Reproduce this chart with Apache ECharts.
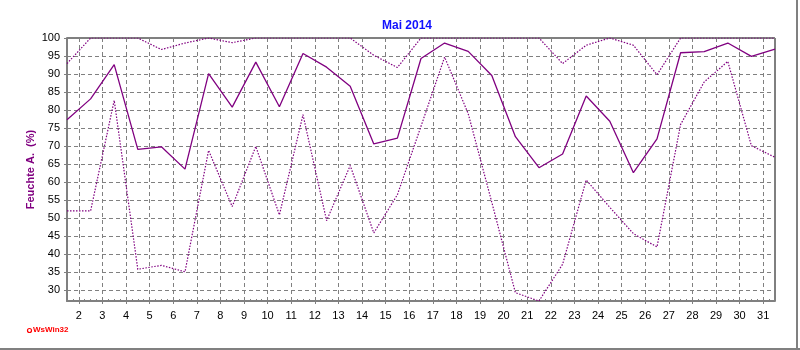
<!DOCTYPE html>
<html>
<head>
<meta charset="utf-8">
<script src="https://cdn.jsdelivr.net/npm/echarts@6/dist/echarts.min.js"></script>
<style>
html,body{margin:0;padding:0;background:#fff;}
#chart{width:800px;height:350px;}
</style>
</head>
<body>
<div id="chart"></div>
<script>
// ---- data ----
var title = 'Mai 2014';
var yName = 'Feuchte A.  (%)';
var days = [1,2,3,4,5,6,7,8,9,10,11,12,13,14,15,16,17,18,19,20,21,22,23,24,25,26,27,28,29,30,31];
var humMean = [77.3,83.1,92.6,69.1,69.8,63.6,90.1,80.8,93.3,80.9,95.7,91.9,86.6,70.6,72.2,94.3,98.6,96.3,89.6,72.6,64.0,67.8,83.9,76.9,62.6,72.0,95.9,96.2,98.6,94.9,96.9];
var humMax  = [92.9,100,100,100,96.8,98.6,100,98.7,100,100,100,100,100,95.2,91.8,100,100,100,100,100,100,92.9,98.0,100,98.0,89.8,100,100,100,100,100];
var humMin  = [52.0,52.0,82.7,35.8,36.9,35.1,68.8,53.2,69.9,50.9,78.7,49.3,64.6,45.9,56.5,75.5,94.7,79.0,54.4,29.3,27.0,37.2,60.6,53.0,45.7,42.0,76.0,87.8,93.5,70.1,66.9];
var xTickLabels = [2,3,4,5,6,7,8,9,10,11,12,13,14,15,16,17,18,19,20,21,22,23,24,25,26,27,28,29,30,31];
var yTickLabels = [30,35,40,45,50,55,60,65,70,75,80,85,90,95,100];

// ---- chart ----
var FONT = '"Liberation Sans", Arial, sans-serif';
var PURPLE = '#800080';
function pairs(vals){ return days.map(function(d,i){ return [d + 0.5, vals[i]]; }); }
var minorTicks = [];
for (var q = 1.5; q <= 31.5001; q += 0.25) { minorTicks.push(q); }

var chart = echarts.init(document.getElementById('chart'), null, {renderer:'canvas'});
chart.setOption({
  animation: false,
  backgroundColor: '#fff',
  title: {
    text: title, left: 377, top: 15,
    textStyle: {color:'#1010ff', fontFamily: FONT, fontWeight:'bold', fontSize: 12}
  },
  grid: {left: 67, right: 25, top: 38, bottom: 49, show: true, borderColor: '#000', borderWidth: 1, backgroundColor: 'transparent'},
  xAxis: [{
    type: 'value', min: 1.5, max: 31.5,
    axisLine: {show: true, lineStyle: {color: '#808080', width: 2}},
    axisTick: {show: true, length: 3, lineStyle: {color: '#808080'}, customValues: xTickLabels},
    axisLabel: {customValues: xTickLabels, color: '#000', fontFamily: FONT, fontSize: 11, margin: 9},
    splitLine: {show: true, lineStyle: {color: '#808080', type: [4,3], width: 1}}
  }, {
    type: 'value', min: 1.5, max: 31.5, position: 'bottom',
    axisLine: {show: false},
    axisTick: {show: true, inside: true, length: 2, lineStyle: {color: '#808080'}, customValues: minorTicks},
    axisLabel: {show: false},
    splitLine: {show: false}
  }],
  yAxis: {
    type: 'value', min: 27, max: 100,
    name: yName, nameLocation: 'middle', nameGap: 31, nameRotate: 90, nameMoveOverlap: false,
    nameTextStyle: {color: PURPLE, fontFamily: FONT, fontWeight: 'bold', fontSize: 11},
    axisLine: {show: true, lineStyle: {color: '#808080', width: 2}},
    axisTick: {show: true, length: 3, lineStyle: {color: '#808080'}, customValues: yTickLabels},
    axisLabel: {customValues: yTickLabels, color: '#000', fontFamily: FONT, fontSize: 11, margin: 7},
    splitLine: {show: true, lineStyle: {color: '#808080', type: [4,3], width: 1}}
  },
  series: [
    {name: 'max', type: 'line', data: pairs(humMax), symbol: 'none', lineStyle: {color: PURPLE, width: 1.2, type: [1.5,1.5]}},
    {name: 'min', type: 'line', data: pairs(humMin), symbol: 'none', lineStyle: {color: PURPLE, width: 1.2, type: [1.5,1.5]}},
    {name: 'mittel', type: 'line', data: pairs(humMean), symbol: 'none', lineStyle: {color: PURPLE, width: 1.3}}
  ],
  graphic: [
    {type: 'line', shape: {x1: 797, y1: 0, x2: 797, y2: 350}, style: {stroke: '#808080', lineWidth: 2}},
    {type: 'line', shape: {x1: 0, y1: 349, x2: 800, y2: 349}, style: {stroke: '#808080', lineWidth: 2}},
    {type: 'circle', shape: {cx: 29.5, cy: 330.5, r: 2}, style: {fill: 'transparent', stroke: '#ff0000', lineWidth: 1.2}},
    {type: 'text', left: 33, top: 326, style: {text: 'WsWin32', fill: '#ff0000', font: 'bold 8px ' + FONT}}
  ]
});
</script>
</body>
</html>
